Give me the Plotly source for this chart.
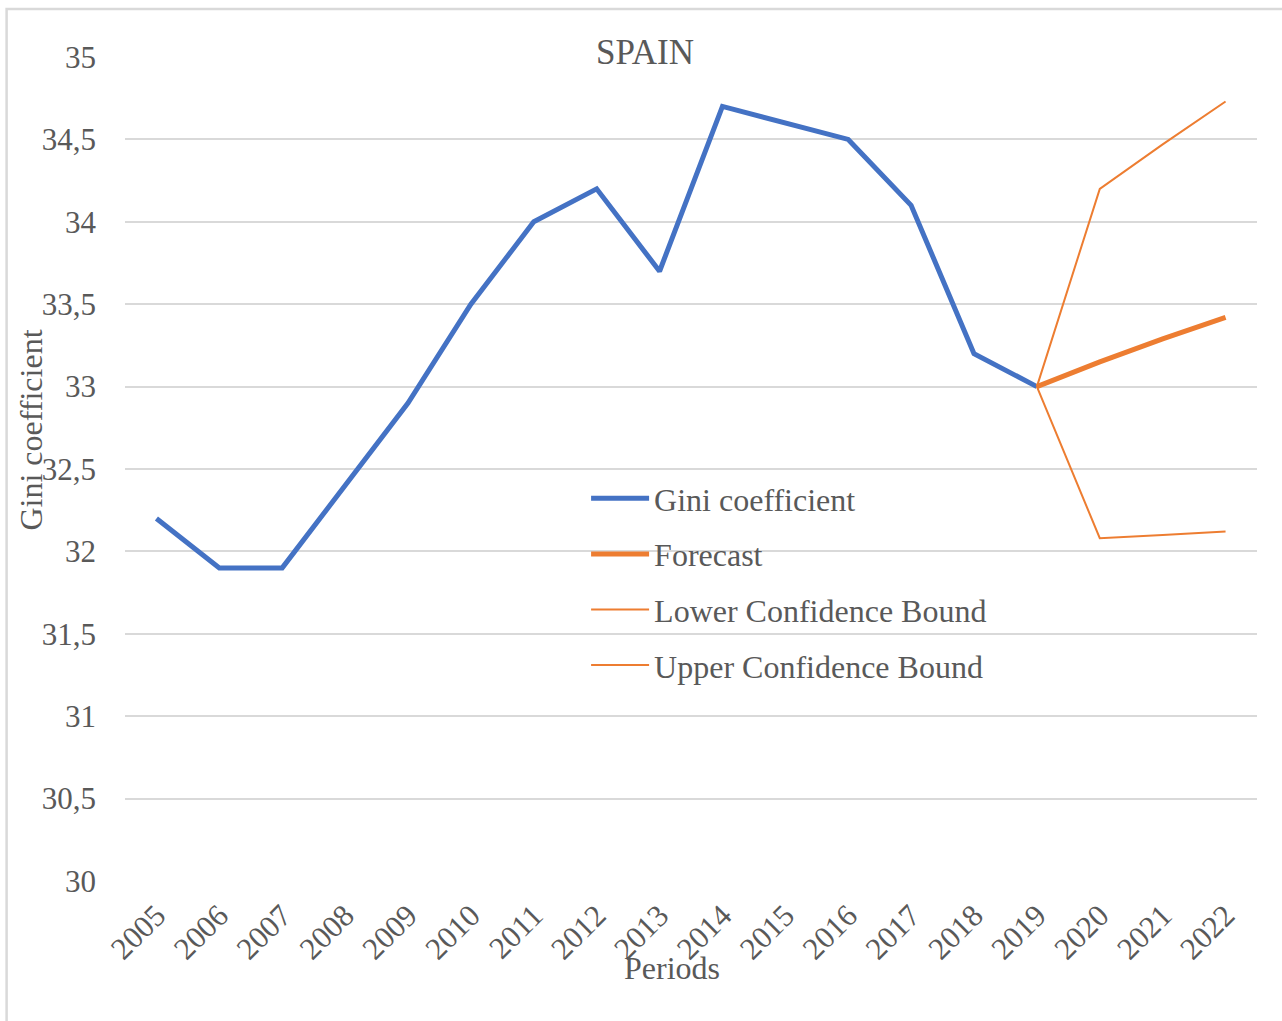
import plotly.graph_objects as go

years = [str(y) for y in range(2005, 2023)]
gini_years = years[:15]
gini = [32.2, 31.9, 31.9, 32.4, 32.9, 33.5, 34.0, 34.2, 33.7, 34.7, 34.6, 34.5, 34.1, 33.2, 33.0]
fc_years = ["2019", "2020", "2021", "2022"]
forecast = [33.0, 33.15, 33.29, 33.42]
lower = [33.0, 32.08, 32.10, 32.12]
upper = [33.0, 34.2, 34.47, 34.73]
y_ticks = [30, 30.5, 31, 31.5, 32, 32.5, 33, 33.5, 34, 34.5, 35]

W, H = 1282, 1021
ML, MR, MT, MB = 124.5, 24.5, 57, 140
PW, PH = W - ML - MR, H - MT - MB

FONT = "Liberation Serif, Times New Roman, serif"
GREY = "#595959"
BLUE = "#4472C4"
ORANGE = "#ED7D31"

fig = go.Figure()
fig.add_trace(go.Scatter(x=gini_years, y=gini, mode="lines", name="Gini coefficient",
                         line=dict(color=BLUE, width=5), legendgroup="a"))
fig.add_trace(go.Scatter(x=fc_years, y=forecast, mode="lines", name="Forecast",
                         line=dict(color=ORANGE, width=5), legendgroup="b"))
fig.add_trace(go.Scatter(x=fc_years, y=lower, mode="lines", name="Lower Confidence Bound",
                         line=dict(color=ORANGE, width=2), legendgroup="c"))
fig.add_trace(go.Scatter(x=fc_years, y=upper, mode="lines", name="Upper Confidence Bound",
                         line=dict(color=ORANGE, width=2), legendgroup="d"))

def px_x(px):
    return (px - ML) / PW

def px_y(py):
    return (H - MB - py) / PH

fig.update_layout(
    width=W, height=H,
    margin=dict(l=ML, r=MR, t=MT, b=MB, pad=0),
    paper_bgcolor="white", plot_bgcolor="white",
    separators=", ",
    font=dict(family=FONT, color=GREY, size=31),
    title=dict(text="SPAIN", xref="container", yref="container", x=645 / W, y=1 - 52 / H,
               xanchor="center", yanchor="middle", font=dict(size=35, color=GREY, family=FONT)),
    showlegend=True,
    legend=dict(x=px_x(586), y=px_y(471), xanchor="left", yanchor="top",
                bgcolor="rgba(0,0,0,0)", font=dict(size=32, color=GREY, family=FONT),
                tracegroupgap=11, traceorder="grouped", itemwidth=58),
    xaxis=dict(type="category", categoryarray=years, categoryorder="array",
               range=[-0.5, len(years) - 0.5], showgrid=False, showline=False, zeroline=False,
               tickangle=-45, ticks="", ticklabelstandoff=9,
               tickfont=dict(size=31, color=GREY, family=FONT)),
    yaxis=dict(range=[30, 35], tickvals=y_ticks, showgrid=True, gridcolor="#D9D9D9", gridwidth=2,
               zeroline=False, showline=False, ticks="", ticklabelstandoff=28,
               tickfont=dict(size=31, color=GREY, family=FONT)),
    annotations=[
        dict(text="Periods", xref="paper", yref="paper", x=px_x(672), y=px_y(968),
             xanchor="center", yanchor="middle", showarrow=False,
             font=dict(size=32, color=GREY, family=FONT)),
        dict(text="Gini coefficient", xref="paper", yref="paper", x=px_x(30), y=px_y(430),
             xanchor="center", yanchor="middle", showarrow=False, textangle=-90,
             font=dict(size=32, color=GREY, family=FONT)),
    ],
    shapes=[dict(type="rect", xref="paper", yref="paper",
                 x0=px_x(6), x1=px_x(1290), y0=px_y(1030), y1=px_y(9),
                 line=dict(color="#D9D9D9", width=2.5), fillcolor="rgba(0,0,0,0)", layer="below")],
)

fig.write_html("out.html", config={"displayModeBar": False},
               post_script="document.body.style.margin='0';document.body.style.overflow='hidden';")
